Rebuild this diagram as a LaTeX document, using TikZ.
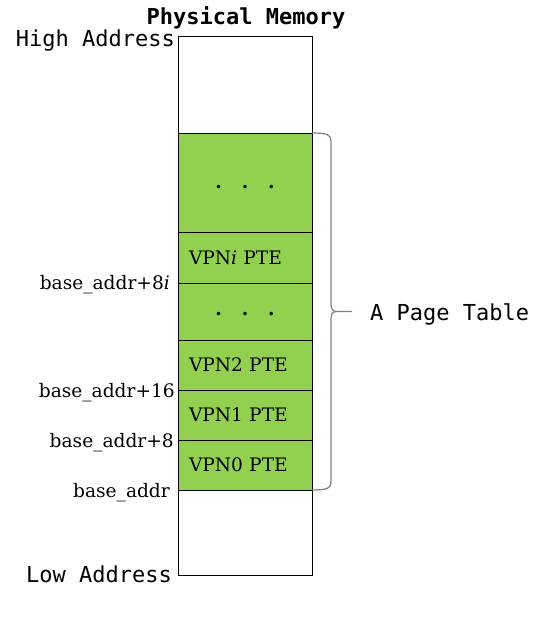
\documentclass[tikz,border=0pt]{standalone}
\usepackage{fontspec}
\setmainfont{DejaVu Serif}
\setmonofont{DejaVu Sans Mono}
\usetikzlibrary{calc}
\definecolor{ptgreen}{HTML}{92D050}
\definecolor{bracegray}{HTML}{7F7F7F}
\newcommand\monosz{\ttfamily\fontsize{22}{26}\selectfont}
\newcommand\serifsz{\rmfamily\fontsize{18.6}{22}\selectfont}
\tikzset{
  memcell/.style={draw=black, line width=1pt, minimum width=134pt, inner sep=0pt, outer sep=0pt, anchor=north},
  ptecell/.style={memcell, fill=ptgreen, text width=112pt, inner xsep=11pt, inner ysep=0pt, align=left, font=\serifsz},
  monolabel/.style={font=\monosz, inner sep=0pt},
  addrlabel/.style={font=\serifsz, inner sep=0pt, anchor=base east},
  dotsrow/.style={font=\serifsz\bfseries, inner sep=0pt},
  bracestyle/.style={draw=bracegray, line width=1.2pt},
}
\begin{document}
\begin{tikzpicture}[x=1pt,y=-1pt]
\useasboundingbox (0,0) rectangle (546,626);
% memory column
\node[memcell, minimum height=96pt, anchor=north west] (top) at (178,37) {};
\node[ptecell, minimum height=99pt] (d1) at (top.south) {};
\node[ptecell, minimum height=51pt] (vpni) at (d1.south) {VPN\textit{i} PTE};
\node[ptecell, minimum height=57pt] (d2) at (vpni.south) {};
\node[ptecell, minimum height=50pt] (vpn2) at (d2.south) {VPN2 PTE};
\node[ptecell, minimum height=50pt] (vpn1) at (vpn2.south) {VPN1 PTE};
\node[ptecell, minimum height=50pt] (vpn0) at (vpn1.south) {VPN0 PTE};
\node[memcell, minimum height=85pt] (bottom) at (vpn0.south) {};
% dots
\node[dotsrow] (d1dots) at (245,187) {.\hspace{20pt}.\hspace{20pt}.};
\node[dotsrow] (d2dots) at (245,314) {.\hspace{20pt}.\hspace{20pt}.};
% titles
\node[monolabel, font=\monosz\bfseries, anchor=base] (title) at (246,25) {Physical Memory};
\node[monolabel, anchor=base east] (high) at (175,47) {High Address};
\node[monolabel, anchor=base east] (low) at (172,582) {Low Address};
% address labels
\node[addrlabel] (a8i) at (170,289) {base\_addr+8\textit{i}};
\node[addrlabel] (a16) at (175,397) {base\_addr+16};
\node[addrlabel] (a8) at (174,447) {base\_addr+8};
\node[addrlabel] (a0) at (170,497) {base\_addr};
% brace
\coordinate (bt) at (d1.north east);
\coordinate (bb) at (vpn0.south east);
\coordinate (mid) at ($(bt)!0.5!(bb)$);
\draw[bracestyle] (bt) .. controls ($(bt)+(16,0)$) and ($(bt)+(19,2)$) .. ($(bt)+(19,8)$)
  -- ($(mid)+(19,-7)$) .. controls ($(mid)+(19,-2)$) and ($(mid)+(21,0)$) .. ($(mid)+(25,0)$)
  -- ($(mid)+(40,0)$);
\draw[bracestyle] ($(mid)+(25,0)$) .. controls ($(mid)+(21,0)$) and ($(mid)+(19,2)$) .. ($(mid)+(19,7)$)
  -- ($(bb)+(19,-8)$) .. controls ($(bb)+(19,-2)$) and ($(bb)+(16,0)$) .. (bb);
\node[monolabel, anchor=base west] (pt) at (370,320) {A Page Table};
\end{tikzpicture}
\end{document}
